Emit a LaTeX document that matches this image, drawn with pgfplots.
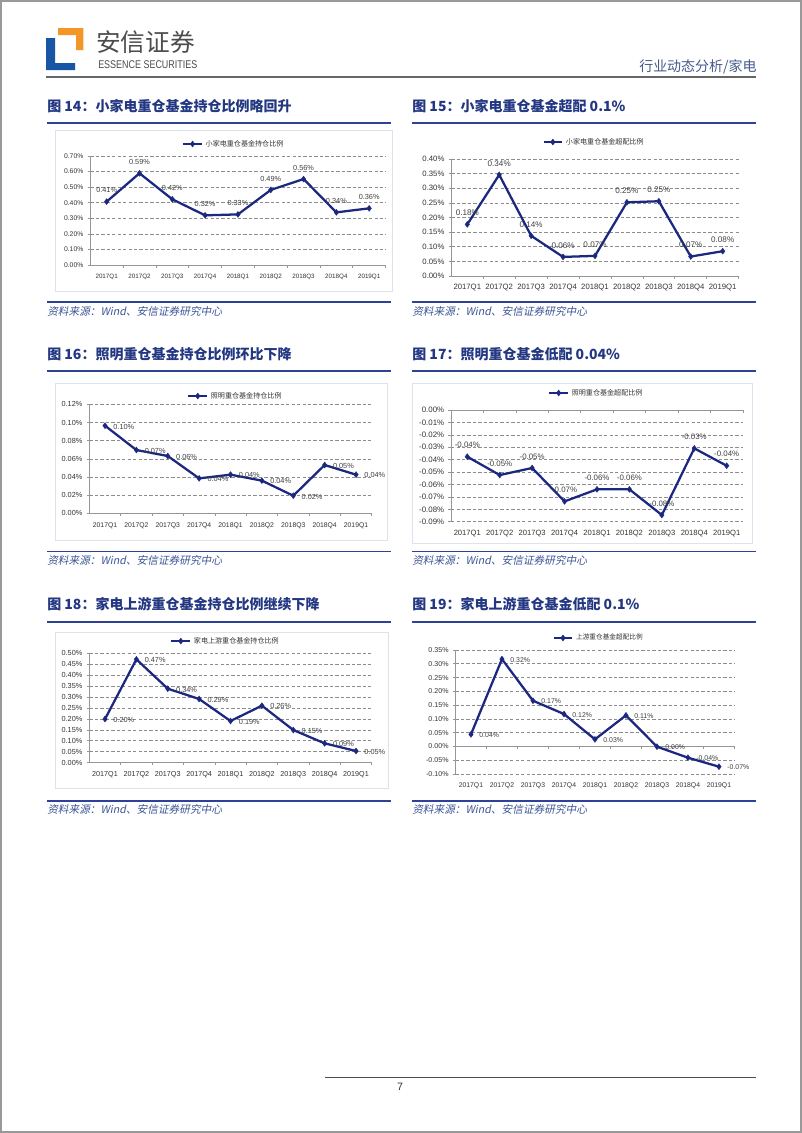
\documentclass[border=0pt]{standalone}
\usepackage{pgfplots}
\pgfplotsset{compat=1.18}
\usepackage{fontspec}
\setmainfont{Liberation Sans}
\newfontfamily\cjk{Noto Sans CJK SC}
\newfontfamily\cjkit[FakeSlant=0.2]{Noto Sans CJK SC}
\newfontfamily\cond[FakeStretch=0.8]{Liberation Sans}
\definecolor{navy}{RGB}{28,40,128}
\definecolor{titleblue}{RGB}{35,55,130}
\definecolor{ruleblue}{RGB}{45,65,150}
\definecolor{srcblue}{RGB}{60,85,150}
\definecolor{gridgray}{RGB}{140,140,140}
\definecolor{axgray}{RGB}{150,150,150}
\definecolor{logoblue}{RGB}{25,85,165}
\definecolor{logoorange}{RGB}{242,150,40}
\definecolor{hdrblue}{RGB}{70,90,140}
\definecolor{framegray}{RGB}{222,226,236}
\pgfplotsset{
 mychart/.style={
  scale only axis, anchor=south west, clip=false,
  scaled y ticks=false,
  /pgf/number format/assume math mode=true,
  xmin=-0.5, xmax=8.5, xtick={0,1,2,3,4,5,6,7,8},
  xticklabels={2017Q1,2017Q2,2017Q3,2017Q4,2018Q1,2018Q2,2018Q3,2018Q4,2019Q1},
  axis y line*=left, axis x line*=bottom,
  x axis line style={draw=none}, xtick style={draw=none},
  ytick style={draw=axgray, line width=0.5pt},
  y axis line style={draw=axgray, line width=0.6pt},
  tick align=outside, major tick length=2pt,
  ymajorgrids, major grid style={gridgray, line width=0.5pt, dash pattern=on 2.5pt off 1.6pt},
  xticklabel style={anchor=center, yshift=-7pt, text=black!80},
  yticklabel style={anchor=east, inner sep=0pt, xshift=-3pt, text=black!80},
  legend style={draw=none, fill=none, inner sep=0pt, anchor=west, text=black!80},
  legend image code/.code={\draw[mark repeat=2,mark phase=2,##1] plot coordinates {(0pt,0pt)(7pt,0pt)(14pt,0pt)};},
  nodes near coords, point meta=explicit symbolic,
 },
 ser/.style={navy, line width=1.7pt, mark=diamond*, mark size=2.3pt, mark options={solid, fill=navy, line width=0.2pt}},
 above lab/.style={every node near coord/.style={font=\fontsize{#1}{#1}\selectfont, text=black!75, inner sep=0pt, anchor=center, yshift=8.6pt}},
 right lab/.style={every node near coord/.style={font=\fontsize{#1}{#1}\selectfont, text=black!75, inner sep=0pt, anchor=west, xshift=6.2pt, yshift=-0.6pt}},
}
\begin{document}
\begin{tikzpicture}
\fill[white] (0,0) rectangle (601.5pt,-849.75pt);
\path[use as bounding box] (0,0) rectangle (601.5pt,-849.75pt);
\begin{scope}[x=0.75pt,y=-0.75pt]
 \draw[gray!80, line width=1.2pt] (1,1) rectangle (801,1132);
 % logo
 \fill[logoblue] (46,38) -- (55,38) -- (55,63) -- (75,63) -- (75,70) -- (46,70) -- cycle;
 \fill[logoorange] (58,28) -- (83.3,28) -- (83.3,50) -- (76,50) -- (76,35) -- (58,35) -- cycle;
 \node[anchor=west, inner sep=0pt, text=black!70] at (96,42.5) {\cjk\fontsize{18.5}{20}\selectfont 安信证券};
 \node[anchor=west, inner sep=0pt, text=black!70] at (98,64.2) {\cond\fontsize{8.4}{9}\selectfont ESSENCE SECURITIES};
 \node[anchor=east, inner sep=0pt, text=hdrblue] at (757,66.7) {\cjk\fontsize{10.5}{12}\selectfont 行业动态分析/家电};
 \draw[black!60, line width=1.5pt] (46,77) -- (756,77);
 % frames
 \draw[framegray, line width=0.6pt] (55,130) rectangle (392,291);
 \draw[framegray, line width=0.6pt] (55,383) rectangle (387,540);
 \draw[framegray, line width=0.6pt] (412,383) rectangle (752,543);
 \draw[framegray, line width=0.6pt] (55,632) rectangle (388,788);
 % titles
 \foreach \xx/\yy/\tt in {47/106/{图 14：小家电重仓基金持仓比例略回升}, 412/106/{图 15：小家电重仓基金超配 0.1\%},
   47/354/{图 16：照明重仓基金持仓比例环比下降}, 412/354/{图 17：照明重仓基金低配 0.04\%},
   47/604/{图 18：家电上游重仓基金持仓比例继续下降}, 412/604/{图 19：家电上游重仓基金低配 0.1\%}}{
   \node[anchor=west, inner sep=0pt, text=titleblue] at (\xx,\yy) {\cjk\bfseries\fontsize{10.5}{12}\selectfont \tt};
 }
 \foreach \yy in {123,371,622}{
   \draw[ruleblue, line width=1.4pt] (47,\yy) -- (391,\yy);
   \draw[ruleblue, line width=1.4pt] (412,\yy) -- (756,\yy);
 }
 \foreach \yy in {302,551.5,801}{
   \draw[ruleblue, line width=1.2pt] (47,\yy) -- (391,\yy);
   \draw[ruleblue, line width=1.2pt] (412,\yy) -- (756,\yy);
 }
 \foreach \yy in {311,560,809}{
   \node[anchor=west, inner sep=0pt, text=srcblue] at (47,\yy) {\cjkit\fontsize{8}{9}\selectfont 资料来源：Wind、安信证券研究中心};
   \node[anchor=west, inner sep=0pt, text=srcblue] at (412,\yy) {\cjkit\fontsize{8}{9}\selectfont 资料来源：Wind、安信证券研究中心};
 }
 \draw[black!70, line width=0.6pt] (325,1077) -- (756,1077);
 \node[inner sep=0pt, text=black!80] at (400,1087) {\fontsize{8}{9}\selectfont 7};
\end{scope}

% ---------- Chart 14
\begin{axis}[mychart, at={(67.7pt,-198.75pt)}, width=221.5pt, height=81.75pt,
  ymin=0, ymax=0.7, ytick={0,0.1,0.2,0.3,0.4,0.5,0.6,0.7},
  yticklabels={0.00\%,0.10\%,0.20\%,0.30\%,0.40\%,0.50\%,0.60\%,0.70\%},
  xticklabel style={font=\fontsize{4.7}{5}\selectfont},
  yticklabel style={font=\fontsize{5.1}{6}\selectfont},
  legend style={at={(axis description cs:0.31,1.11)}, font=\cjk\fontsize{5.3}{6}\selectfont},
  above lab=5.5]
\draw[axgray, line width=0.6pt] (axis cs:-0.5,0) -- (axis cs:8.5,0);
\pgfplotsinvokeforeach{0.5,1.5,2.5,3.5,4.5,5.5,6.5,7.5,8.5}{\draw[axgray, line width=0.5pt] (axis cs:#1,0) -- ++(0pt,-2pt);}
\addplot[ser] coordinates {(0,0.407) [0.41\%] (1,0.589) [0.59\%] (2,0.422) [0.42\%] (3,0.319) [0.32\%] (4,0.325) [0.33\%] (5,0.482) [0.49\%] (6,0.552) [0.56\%] (7,0.338) [0.34\%] (8,0.364) [0.36\%]};
\addlegendentry{小家电重仓基金持仓比例}
\end{axis}

% ---------- Chart 15
\begin{axis}[mychart, at={(338.5pt,-207pt)}, width=215.5pt, height=87.75pt,
  ymin=0, ymax=0.4, ytick={0,0.05,0.1,0.15,0.2,0.25,0.3,0.35,0.4},
  yticklabels={0.00\%,0.05\%,0.10\%,0.15\%,0.20\%,0.25\%,0.30\%,0.35\%,0.40\%},
  xticklabel style={font=\fontsize{5.8}{6}\selectfont},
  yticklabel style={font=\fontsize{5.8}{6}\selectfont},
  legend style={at={(axis description cs:0.316,1.145)}, font=\cjk\fontsize{5.3}{6}\selectfont},
  above lab=6.1]
\draw[axgray, line width=0.6pt] (axis cs:-0.5,0) -- (axis cs:8.5,0);
\pgfplotsinvokeforeach{0.5,1.5,2.5,3.5,4.5,5.5,6.5,7.5,8.5}{\draw[axgray, line width=0.5pt] (axis cs:#1,0) -- ++(0pt,-2pt);}
\addplot[ser] coordinates {(0,0.1765) [0.18\%] (1,0.346) [0.34\%] (2,0.1375) [0.14\%] (3,0.0653) [0.06\%] (4,0.0688) [0.07\%] (5,0.252) [0.25\%] (6,0.2556) [0.25\%] (7,0.0665) [0.07\%] (8,0.0848) [0.08\%]};
\addlegendentry{小家电重仓基金超配比例}
\end{axis}

% ---------- Chart 16
\begin{axis}[mychart, at={(67pt,-385pt)}, width=211.8pt, height=81.75pt,
  ymin=0, ymax=0.12, ytick={0,0.02,0.04,0.06,0.08,0.1,0.12},
  yticklabels={0.00\%,0.02\%,0.04\%,0.06\%,0.08\%,0.10\%,0.12\%},
  xticklabel style={font=\fontsize{5.1}{6}\selectfont},
  yticklabel style={font=\fontsize{5.5}{6}\selectfont},
  legend style={at={(axis description cs:0.346,1.076)}, font=\cjk\fontsize{5.3}{6}\selectfont},
  right lab=5.5]
\draw[axgray, line width=0.6pt] (axis cs:-0.5,0) -- (axis cs:8.5,0);
\pgfplotsinvokeforeach{0.5,1.5,2.5,3.5,4.5,5.5,6.5,7.5,8.5}{\draw[axgray, line width=0.5pt] (axis cs:#1,0) -- ++(0pt,-2pt);}
\addplot[ser] coordinates {(0,0.0965) [0.10\%] (1,0.0697) [0.07\%] (2,0.0631) [0.06\%] (3,0.0385) [0.04\%] (4,0.0426) [0.04\%] (5,0.036) [0.04\%] (6,0.0194) [0.02\%] (7,0.0532) [0.05\%] (8,0.0426) [0.04\%]};
\addlegendentry{照明重仓基金持仓比例}
\end{axis}

% ---------- Chart 17
\begin{axis}[mychart, at={(338.3pt,-391.3pt)}, width=218.9pt, height=83.8pt,
  ymin=-0.09, ymax=0, ytick={-0.09,-0.08,-0.07,-0.06,-0.05,-0.04,-0.03,-0.02,-0.01,0},
  yticklabels={-0.09\%,-0.08\%,-0.07\%,-0.06\%,-0.05\%,-0.04\%,-0.03\%,-0.02\%,-0.01\%,0.00\%},
  xticklabel style={font=\fontsize{5.7}{6}\selectfont},
  yticklabel style={font=\fontsize{5.9}{6}\selectfont},
  legend style={at={(axis description cs:0.332,1.152)}, font=\cjk\fontsize{5.3}{6}\selectfont},
  above lab=5.9]
\draw[axgray, line width=0.6pt] (axis cs:-0.5,0) -- (axis cs:8.5,0);
\pgfplotsinvokeforeach{0.5,1.5,2.5,3.5,4.5,5.5,6.5,7.5,8.5}{\draw[axgray, line width=0.5pt] (axis cs:#1,0) -- ++(0pt,-2pt);}
\addplot[ser] coordinates {(0,-0.0376) [-0.04\%] (1,-0.0524) [-0.05\%] (2,-0.0467) [-0.05\%] (3,-0.0736) [-0.07\%] (4,-0.0639) [-0.06\%] (5,-0.0639) [-0.06\%] (6,-0.0846) [-0.08\%] (7,-0.0309) [-0.03\%] (8,-0.0449) [-0.04\%]};
\addlegendentry{照明重仓基金超配比例}
\end{axis}

% ---------- Chart 18
\begin{axis}[mychart, at={(67pt,-572pt)}, width=211.8pt, height=82pt,
  ymin=0, ymax=0.5, ytick={0,0.05,0.1,0.15,0.2,0.25,0.3,0.35,0.4,0.45,0.5},
  yticklabels={0.00\%,0.05\%,0.10\%,0.15\%,0.20\%,0.25\%,0.30\%,0.35\%,0.40\%,0.45\%,0.50\%},
  xticklabel style={font=\fontsize{5.4}{6}\selectfont},
  yticklabel style={font=\fontsize{5.5}{6}\selectfont},
  legend style={at={(axis description cs:0.286,1.112)}, font=\cjk\fontsize{5.3}{6}\selectfont},
  right lab=5.5]
\draw[axgray, line width=0.6pt] (axis cs:-0.5,0) -- (axis cs:8.5,0);
\pgfplotsinvokeforeach{0.5,1.5,2.5,3.5,4.5,5.5,6.5,7.5,8.5}{\draw[axgray, line width=0.5pt] (axis cs:#1,0) -- ++(0pt,-2pt);}
\addplot[ser] coordinates {(0,0.1997) [0.20\%] (1,0.4726) [0.47\%] (2,0.3384) [0.34\%] (3,0.2912) [0.29\%] (4,0.1905) [0.19\%] (5,0.2607) [0.26\%] (6,0.1494) [0.15\%] (7,0.0884) [0.09\%] (8,0.0534) [0.05\%]};
\addlegendentry{家电上游重仓基金持仓比例}
\end{axis}

% ---------- Chart 19
\begin{axis}[mychart, at={(341.6pt,-580.5pt)}, width=209.25pt, height=93pt,
  ymin=-0.1, ymax=0.35, ytick={-0.1,-0.05,0,0.05,0.1,0.15,0.2,0.25,0.3,0.35},
  yticklabels={-0.10\%,-0.05\%,0.00\%,0.05\%,0.10\%,0.15\%,0.20\%,0.25\%,0.30\%,0.35\%},
  xticklabel style={font=\fontsize{5.1}{6}\selectfont},
  yticklabel style={font=\fontsize{5.3}{6}\selectfont},
  legend style={at={(axis description cs:0.347,1.097)}, font=\cjk\fontsize{5}{6}\selectfont},
  right lab=5.2]
\draw[axgray, line width=0.6pt] (axis cs:-0.5,0) -- (axis cs:8.5,0);
\pgfplotsinvokeforeach{0.5,1.5,2.5,3.5,4.5,5.5,6.5,7.5,8.5}{\draw[axgray, line width=0.5pt] (axis cs:#1,0) -- ++(0pt,-2pt);}
\addplot[ser] coordinates {(0,0.0439) [0.04\%] (1,0.317) [0.32\%] (2,0.166) [0.17\%] (3,0.1177) [0.12\%] (4,0.0258) [0.03\%] (5,0.1129) [0.11\%] (6,-0.0008) [0.00\%] (7,-0.0408) [-0.04\%] (8,-0.0734) [-0.07\%]};
\addlegendentry{上游重仓基金超配比例}
\end{axis}
\end{tikzpicture}
\end{document}
